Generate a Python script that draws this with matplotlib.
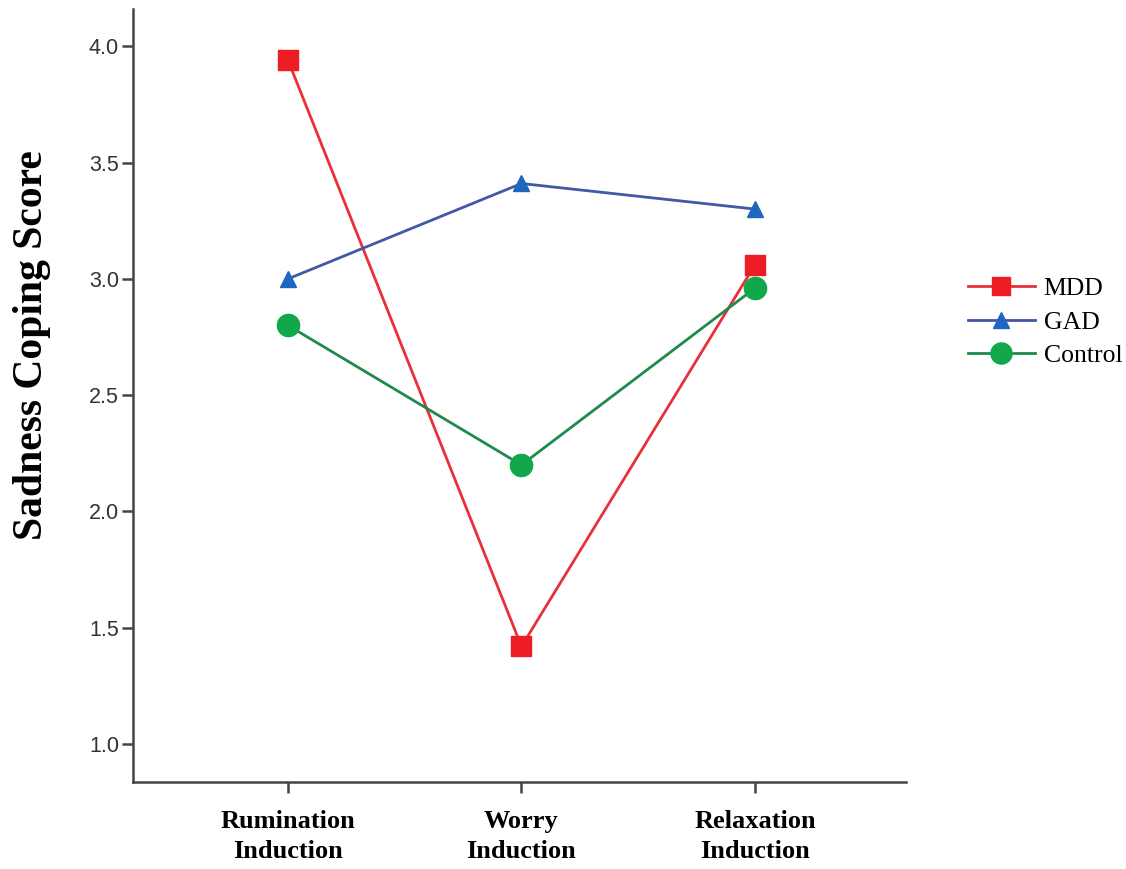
import matplotlib.pyplot as plt

conditions = ["Rumination\nInduction", "Worry\nInduction", "Relaxation\nInduction"]
groups = ["MDD", "GAD", "Control"]
mdd = [3.94, 1.42, 3.06]
gad = [3.00, 3.41, 3.30]
control = [2.80, 2.20, 2.96]
y_ticks = [1.0, 1.5, 2.0, 2.5, 3.0, 3.5, 4.0]

fig = plt.figure(figsize=(11.26, 8.69), dpi=100)
ax = fig.add_axes([0.1181, 0.1001, 0.6865, 0.8895])

x = list(range(len(conditions)))
ax.plot(x, mdd, color="#E8303A", lw=2, marker="s", ms=14,
        mfc="#EE1C25", mec="#EE1C25", label=groups[0])
ax.plot(x, gad, color="#4357A8", lw=2, marker="^", ms=12,
        mfc="#1F66C0", mec="#1F66C0", label=groups[1])
ax.plot(x, control, color="#1E8A4C", lw=2, marker="o", ms=16,
        mfc="#10A84A", mec="#10A84A", label=groups[2])

ax.set_xlim(-0.664, 2.647)
ax.set_ylim(0.837, 4.16)
ax.set_xticks(x)
ax.set_xticklabels(conditions, family="Liberation Serif", fontweight="bold",
                   fontsize=19, linespacing=1.4)
ax.set_yticks(y_ticks)
ax.set_yticklabels([f"{v:.1f}" for v in y_ticks], family="Liberation Sans",
                   fontsize=15.5, color="#333333")
ax.tick_params(axis="both", direction="out", length=8, width=1.8, color="#444444")
ax.tick_params(axis="x", pad=12)
ax.tick_params(axis="y", pad=2)

for side in ["top", "right"]:
    ax.spines[side].set_visible(False)
for side in ["left", "bottom"]:
    ax.spines[side].set_linewidth(1.8)
    ax.spines[side].set_color("#444444")

ax.set_ylabel("Sadness Coping Score", family="Liberation Serif", fontweight="bold",
              fontsize=30)
ax.yaxis.set_label_coords(-0.106, 0.565)

leg = ax.legend(loc="center left", bbox_to_anchor=(1.05, 0.595), frameon=False,
                prop={"family": "Liberation Serif", "size": 18.5},
                handlelength=2.6, handletextpad=0.35, labelspacing=0.4,
                markerscale=0.95)

fig.savefig("out.png", dpi=100)
